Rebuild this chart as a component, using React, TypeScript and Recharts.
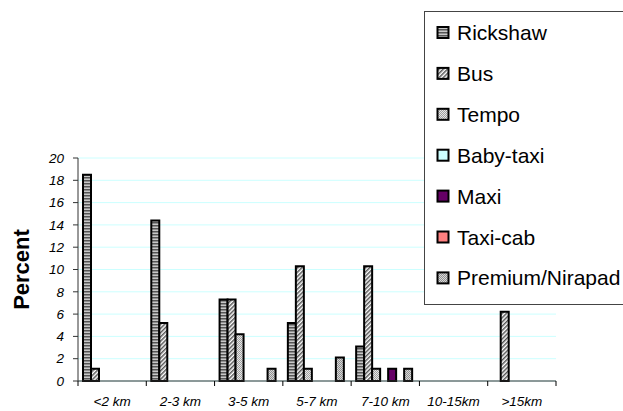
import React from 'react';
import { BarChart, Bar, XAxis, YAxis, CartesianGrid, Legend } from 'recharts';

const categories = ['<2 km', '2-3 km', '3-5 km', '5-7 km', '7-10 km', '10-15km', '>15km'];
const rickshaw = [18.5, 14.4, 7.3, 5.2, 3.1, 0, 0];
const bus = [1.1, 5.2, 7.3, 10.3, 10.3, 0, 6.2];
const tempo = [0, 0, 4.2, 1.1, 1.1, 0, 0];
const babyTaxi = [0, 0, 0, 0, 0, 0, 0];
const maxi = [0, 0, 0, 0, 1.1, 0, 0];
const taxiCab = [0, 0, 0, 0, 0, 0, 0];
const premium = [0, 0, 1.1, 2.1, 1.1, 0, 0];
const yTicks = [0, 2, 4, 6, 8, 10, 12, 14, 16, 18, 20];

const seriesDefs = [
  { key: 'Rickshaw', values: rickshaw, fill: 'url(#patRickshaw)' },
  { key: 'Bus', values: bus, fill: 'url(#patBus)' },
  { key: 'Tempo', values: tempo, fill: 'url(#patTempo)' },
  { key: 'Baby-taxi', values: babyTaxi, fill: '#CCFFFF' },
  { key: 'Maxi', values: maxi, fill: '#660066' },
  { key: 'Taxi-cab', values: taxiCab, fill: '#FF8080' },
  { key: 'Premium/Nirapad', values: premium, fill: 'url(#patPremium)' },
];

const data = categories.map((c, i) => {
  const row: Record<string, any> = { name: c };
  seriesDefs.forEach((s) => {
    row[s.key] = s.values[i];
  });
  return row;
});

const FONT = 'Liberation Sans, Arial, sans-serif';
const W = 623;
const H = 411;
const M = { top: 158, right: 67, bottom: 0, left: 0 };
const Y_W = 78;
const X_H = 30;
const plotW = W - M.left - M.right - Y_W;
const band = plotW / categories.length;

const Patterns = () => (
  <svg width={0} height={0} style={{ position: 'absolute' }}>
    <defs>
      <pattern id="patRickshaw" width={4} height={3} patternUnits="userSpaceOnUse">
        <rect width={4} height={3} fill="#C8C8C8" />
        <rect width={4} height={1.5} fill="#555555" />
      </pattern>
      <pattern id="patBus" width={3} height={3} patternUnits="userSpaceOnUse" patternTransform="rotate(45)">
        <rect width={3} height={3} fill="#FFFFFF" />
        <rect width={1.5} height={3} fill="#555555" />
      </pattern>
      <pattern id="patTempo" width={2} height={2} patternUnits="userSpaceOnUse">
        <rect width={2} height={2} fill="#E8E8E8" />
        <rect width={1} height={1} fill="#A0A0A0" />
        <rect x={1} y={1} width={1} height={1} fill="#A0A0A0" />
      </pattern>
      <pattern id="patPremium" width={2} height={2} patternUnits="userSpaceOnUse">
        <rect width={2} height={2} fill="#D8D8D8" />
        <rect width={1} height={1} fill="#909090" />
        <rect x={1} y={1} width={1} height={1} fill="#909090" />
      </pattern>
    </defs>
  </svg>
);

const XTick = (props: any) => {
  const { x, y, payload, index } = props;
  const left = x - band / 2;
  return (
    <g>
      <line x1={left} y1={y - 8} x2={left} y2={y - 3} stroke="#000" strokeWidth={1} />
      {index === categories.length - 1 && (
        <line x1={left + band} y1={y - 8} x2={left + band} y2={y - 3} stroke="#000" strokeWidth={1} />
      )}
      <text
        x={x}
        y={y + 17}
        textAnchor="middle"
        fontFamily={FONT}
        fontStyle="italic"
        fontSize={13.5}
        fill="#000"
      >
        {payload.value}
      </text>
    </g>
  );
};

const LEG_FS = 21;
const LegendContent = () => (
  <div
    style={{
      position: 'absolute',
      left: 424,
      top: 11,
      width: 230,
      height: 294,
      border: '1px solid #444',
      background: '#fff',
      boxSizing: 'border-box',
    }}
  >
    <svg width={230} height={294} style={{ position: 'absolute', left: -1, top: -1 }}>
      {seriesDefs.map((s, i) => {
        const cy = 21.5 + i * 40.9;
        return (
          <g key={s.key}>
            <rect x={13.5} y={cy - 5.5} width={11} height={11} fill={s.fill} stroke="#000" strokeWidth={2} />
            <text x={33} y={cy + LEG_FS * 0.36} fontFamily={FONT} fontSize={LEG_FS} fill="#000">
              {s.key}
            </text>
          </g>
        );
      })}
    </svg>
  </div>
);

export default function App() {
  return (
    <div style={{ position: 'absolute', left: 0, top: 0, width: W, height: H, overflow: 'hidden', background: '#fff' }}>
      <Patterns />
      <BarChart
        width={W}
        height={H}
        data={data}
        margin={M}
        barCategoryGap={5}
        barGap={0}
      >
        <CartesianGrid vertical={false} stroke="#CCFFFF" strokeWidth={1} />
        <XAxis
          dataKey="name"
          height={X_H}
          stroke="#000"
          axisLine={{ stroke: '#333', strokeWidth: 1 }}
          tickLine={false}
          tick={<XTick />}
          interval={0}
        />
        <YAxis
          width={Y_W}
          domain={[0, 20]}
          ticks={yTicks}
          interval={0}
          axisLine={{ stroke: '#333', strokeWidth: 1 }}
          tickLine={{ stroke: '#333' }}
          tickSize={5}
          tickMargin={9}
          tick={{ fontFamily: FONT, fontStyle: 'italic', fontSize: 13.5, fill: '#000' }}
          label={{
            value: 'Percent',
            angle: -90,
            position: 'insideLeft',
            dx: 16,
            style: { fontFamily: FONT, fontWeight: 'bold', fontSize: 22, fill: '#000', textAnchor: 'middle' },
          }}
        />
        <Legend content={<LegendContent />} wrapperStyle={{ position: 'absolute', left: 0, top: 0, width: 0, height: 0 }} />
        {seriesDefs.map((s) => (
          <Bar key={s.key} dataKey={s.key} fill={s.fill} stroke="#000" strokeWidth={2} isAnimationActive={false} />
        ))}
      </BarChart>
    </div>
  );
}
